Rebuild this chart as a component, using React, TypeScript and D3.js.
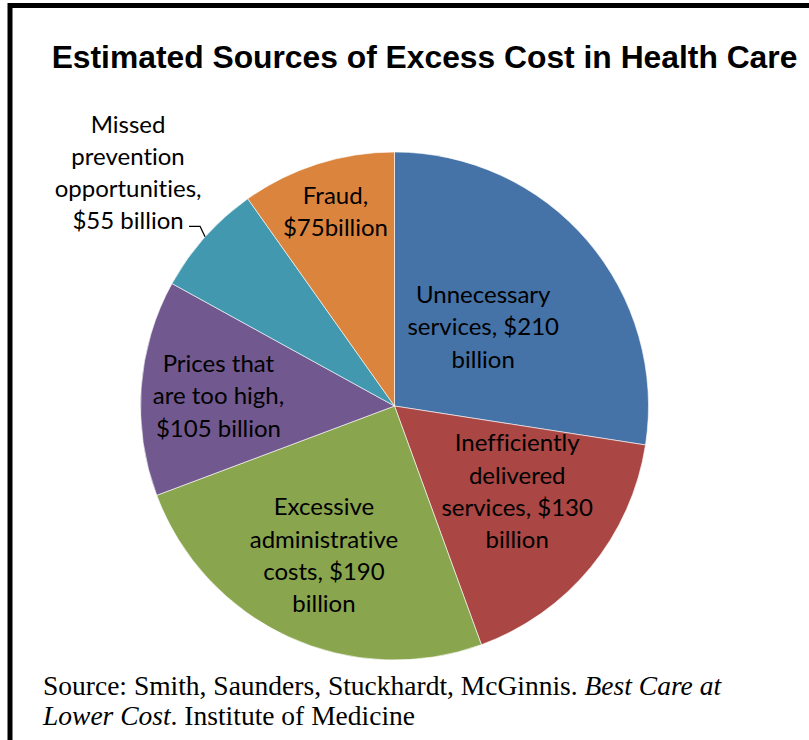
import React from "react";
import * as d3 from "d3";

const titleText = "Estimated Sources of Excess Cost in Health Care";
const categories = [
  "Unnecessary services",
  "Inefficiently delivered services",
  "Excessive administrative costs",
  "Prices that are too high",
  "Missed prevention opportunities",
  "Fraud",
];
const values = [210, 130, 190, 105, 55, 75];
const labelLines = [
  ["Unnecessary", "services, $210", "billion"],
  ["Inefficiently", "delivered", "services, $130", "billion"],
  ["Excessive", "administrative", "costs, $190", "billion"],
  ["Prices that", "are too high,", "$105 billion"],
  ["Missed", "prevention", "opportunities,", "$55 billion"],
  ["Fraud,", "$75billion"],
];
const colors = ["#4572A7", "#AA4643", "#89A54E", "#71588F", "#4198AF", "#DB843D"];

export default function App() {
  const W = 809;
  const H = 740;
  const cx = 394.5;
  const cy = 406;
  const R = 254;
  // label layout: radius as fraction of R plus a small nudge
  const labelFrac = [0.46, 0.61, 0.665, 0.695, 1.38, 0.78];
  const labelNudge = [
    [0, -3],
    [3, -13],
    [0, -4],
    [0, 2.5],
    [-5, 0],
    [1, -5.5],
  ];
  const lineH = 32.3;

  const pie = d3
    .pie<number>()
    .sort(null)
    .value((d) => d)
    .startAngle(0)
    .endAngle(2 * Math.PI);
  const arcs = pie(values);
  const arcGen = d3.arc<d3.PieArcDatum<number>>().innerRadius(0).outerRadius(R);

  const polar = (a: number, r: number) => [Math.sin(a) * r, -Math.cos(a) * r];

  return (
    <svg
      width={W}
      height={H}
      style={{ position: "absolute", left: 0, top: 0, background: "#fff" }}
    >
      <rect x={0} y={0} width={W} height={H} fill="#fff" />
      <rect
        x={10}
        y={5.5}
        width={W + 40}
        height={H + 40}
        fill="none"
        stroke="#000"
        strokeWidth={5}
      />
      <text
        x={424.5}
        y={68}
        textAnchor="middle"
        fontFamily="Liberation Sans, Arial, sans-serif"
        fontWeight="bold"
        fontSize={31.8}
        fill="#000"
      >
        {titleText}
      </text>
      <g transform={`translate(${cx},${cy})`}>
        {arcs.map((a, i) => (
          <path
            key={categories[i]}
            d={arcGen(a) || ""}
            fill={colors[i]}
            stroke="#ffffff"
            strokeWidth={0.6}
          />
        ))}
        {arcs.map((a, i) => {
          const mid = (a.startAngle + a.endAngle) / 2;
          const [px, py] = polar(mid, R * labelFrac[i]);
          const lx = px + labelNudge[i][0];
          const ly = py + labelNudge[i][1];
          const lines = labelLines[i];
          const n = lines.length;
          const firstBaseline = ly - ((n - 1) * lineH) / 2 + 8.5;
          return (
            <text
              key={"l" + i}
              textAnchor="middle"
              fontFamily="Lato, Calibri, sans-serif"
              fontSize={24}
              fill="#000"
              style={{ fontVariantLigatures: "none" }}
            >
              {lines.map((t, j) => (
                <tspan key={j} x={lx} y={firstBaseline + j * lineH}>
                  {t}
                </tspan>
              ))}
            </text>
          );
        })}
        {arcs.map((a, i) => {
          if (labelFrac[i] <= 1) return null;
          const mid = (a.startAngle + a.endAngle) / 2;
          const [ex, ey] = polar(mid, R);
          const elbowX = ex - 5;
          const elbowY = ey - 10.5;
          return (
            <polyline
              key={"ll" + i}
              points={`${elbowX - 11},${elbowY} ${elbowX},${elbowY} ${ex},${ey}`}
              fill="none"
              stroke="#000"
              strokeWidth={1.3}
            />
          );
        })}
      </g>
      <text
        fontFamily="Liberation Serif, Times New Roman, serif"
        fontSize={27.5}
        fill="#000"
      >
        <tspan x={43} y={695}>
          Source: Smith, Saunders, Stuckhardt, McGinnis.{" "}
          <tspan fontStyle="italic">Best Care at</tspan>
        </tspan>
        <tspan x={43} y={725}>
          <tspan fontStyle="italic">Lower Cost</tspan>. Institute of Medicine
        </tspan>
      </text>
    </svg>
  );
}
